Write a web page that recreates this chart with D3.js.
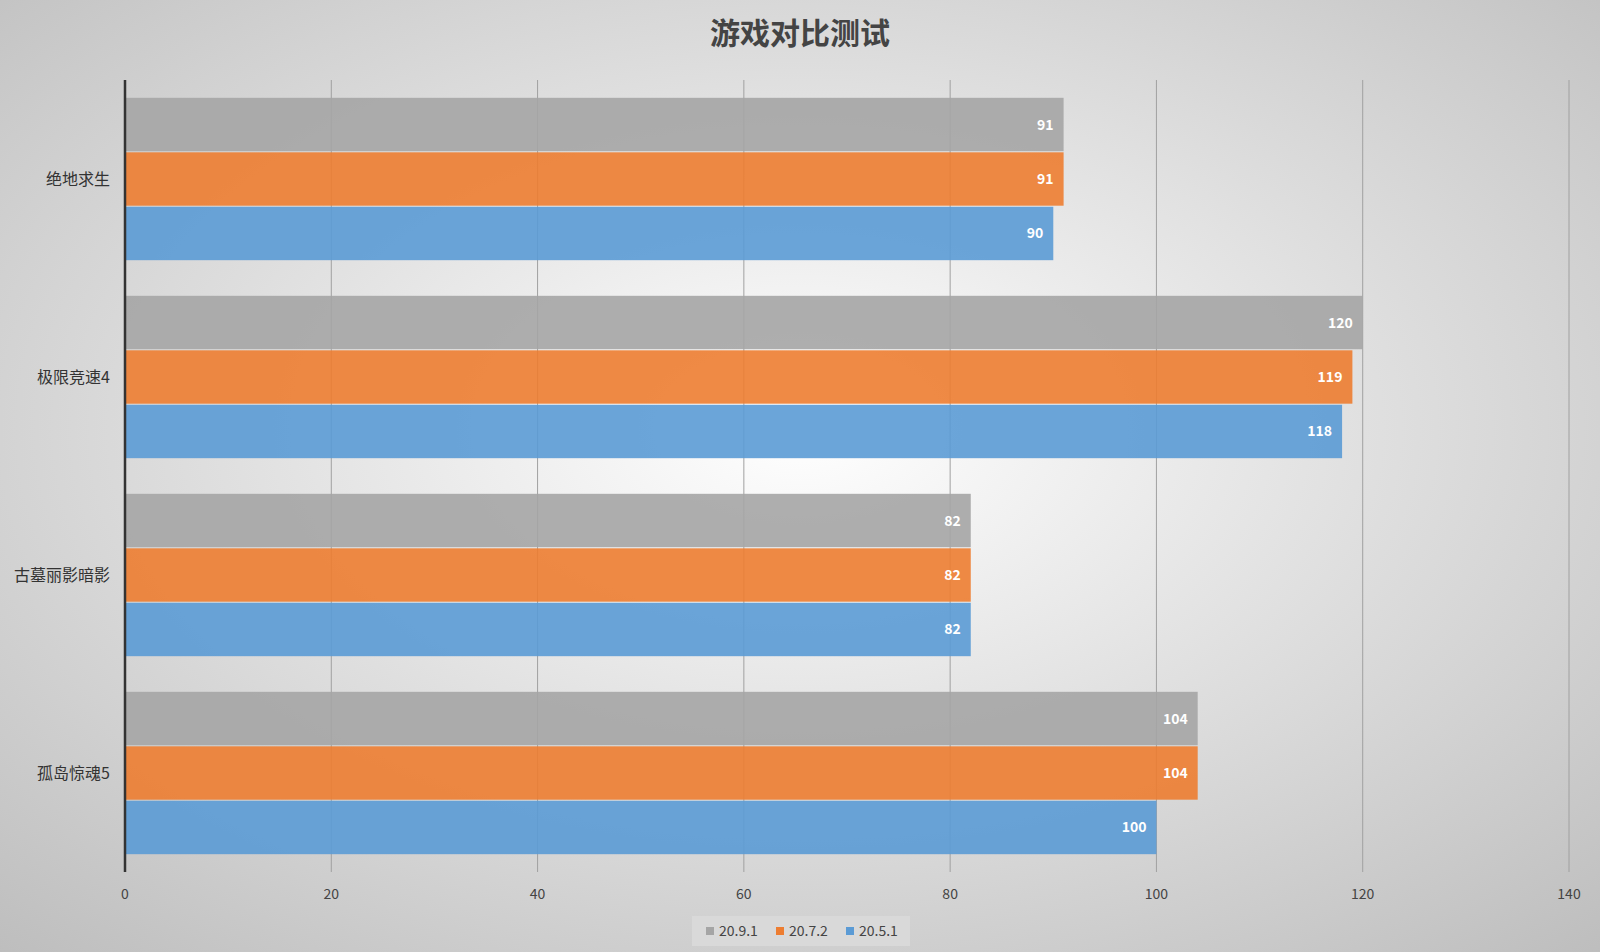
<!DOCTYPE html><html><head><meta charset="utf-8"><script src="https://cdn.jsdelivr.net/npm/d3@7"></script>
<style>body{margin:0}</style></head><body><svg id="c" width="1600" height="952"></svg>
<script>
const categories=["绝地求生","极限竞速4","古墓丽影暗影","孤岛惊魂5"];
const seriesNames=["20.9.1","20.7.2","20.5.1"];
const colors=["#a5a5a5","#ed7d31","#5b9bd5"];
const values=[[91,120,82,104],[91,119,82,104],[90,118,82,100]];
const ticks=[0,20,40,60,80,100,120,140];
const svg=d3.select("#c");
const defs=svg.append("defs");
const g=defs.append("radialGradient").attr("id","bg").attr("cx","50%").attr("cy","45%").attr("r","75%");
g.append("stop").attr("offset","0%").attr("stop-color","#ffffff");
g.append("stop").attr("offset","100%").attr("stop-color","#bdbdbd");
svg.append("rect").attr("width",1600).attr("height",952).attr("fill","url(#bg)");
const x=d3.scaleLinear().domain([0,140]).range([125,1569]);
const y=d3.scaleBand().domain(categories).range([80,872]).paddingInner(0.18).paddingOuter(0.09);
const yi=d3.scaleBand().domain(seriesNames).range([0,y.bandwidth()]).paddingInner(0.02);
svg.append("g").selectAll("line").data(ticks.slice(1)).join("line").attr("x1",d=>x(d)).attr("x2",d=>x(d)).attr("y1",80).attr("y2",872).attr("stroke","#a0a0a0").attr("stroke-width",1);
seriesNames.forEach((s,si)=>{
 const gg=svg.append("g");
 categories.forEach((c,ci)=>{
  const v=values[si][ci], yy=y(c)+yi(s);
  gg.append("rect").attr("x",x(0)).attr("y",yy).attr("width",x(v)-x(0)).attr("height",yi.bandwidth()).attr("fill",colors[si]).attr("opacity",0.9);
  gg.append("text").attr("x",x(v)-10).attr("y",yy+yi.bandwidth()/2+5).attr("text-anchor","end").attr("fill","#fff").attr("font-weight","bold").attr("font-size",14).attr("font-family","Noto Sans CJK SC").text(v);
 });
});
svg.append("line").attr("x1",x(0)).attr("x2",x(0)).attr("y1",80).attr("y2",872).attr("stroke","#333").attr("stroke-width",2.5);
svg.append("g").selectAll("text").data(ticks).join("text").attr("x",d=>x(d)).attr("y",899).attr("text-anchor","middle").attr("font-size",14).attr("fill","#444").attr("font-family","Noto Sans CJK SC").text(d=>d);
svg.append("g").selectAll("text").data(categories).join("text").attr("x",110).attr("y",d=>y(d)+y.bandwidth()/2+6).attr("text-anchor","end").attr("font-size",16).attr("fill","#333").attr("font-family","Noto Sans CJK SC").text(d=>d);
svg.append("text").attr("x",800).attr("y",44).attr("text-anchor","middle").attr("font-size",30).attr("font-weight","bold").attr("fill","#444").attr("font-family","Noto Sans CJK SC").text("游戏对比测试");
svg.append("rect").attr("x",692).attr("y",916).attr("width",218).attr("height",30).attr("fill","#d9d9d9");
seriesNames.forEach((s,i)=>{
 const lx=706+i*70;
 svg.append("rect").attr("x",lx).attr("y",927).attr("width",8).attr("height",8).attr("fill",colors[i]);
 svg.append("text").attr("x",lx+13).attr("y",936).attr("font-size",14).attr("fill","#444").attr("font-family","Noto Sans CJK SC").text(s);
});
</script></body></html>
